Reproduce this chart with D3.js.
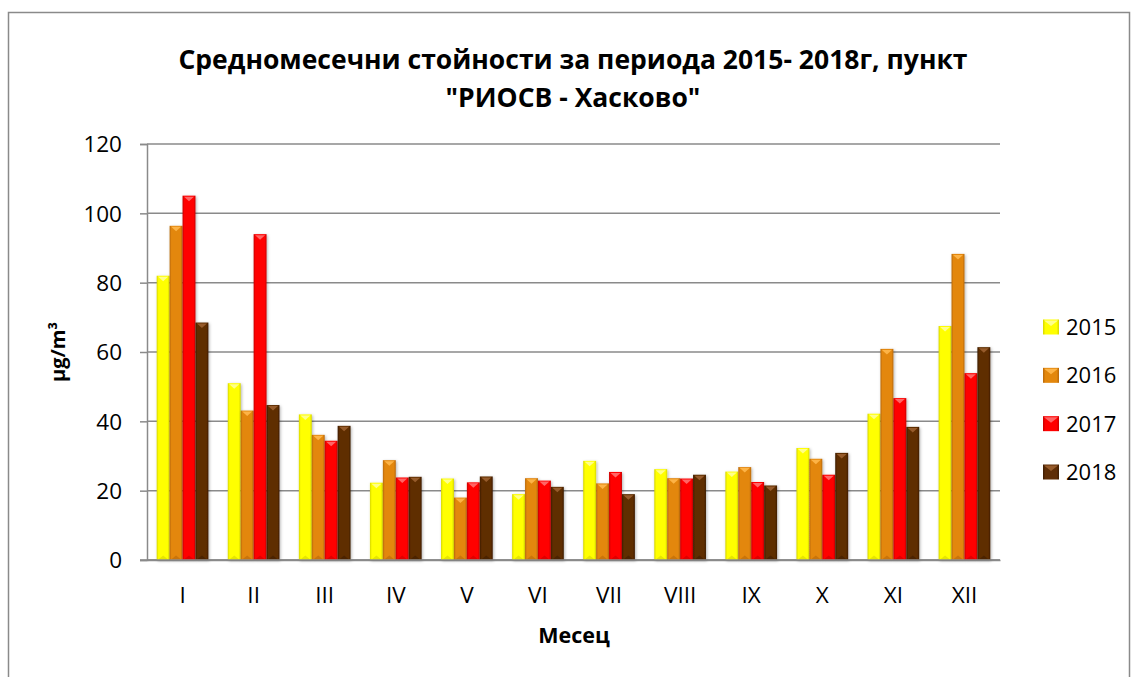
<!DOCTYPE html>
<html>
<head>
<meta charset="utf-8">
<script src="https://cdn.jsdelivr.net/npm/d3@7"></script>
<style>
  html, body { margin: 0; padding: 0; background: #fff; }
  svg { display: block; }
  text { font-family: "Open Sans", "Noto Sans", "DejaVu Sans", sans-serif; fill: #000; }
</style>
</head>
<body>
<svg id="chart" width="1131" height="677"></svg>
<script>
// ---- Data ----
const months = ["I","II","III","IV","V","VI","VII","VIII","IX","X","XI","XII"];
const seriesNames = ["2015","2016","2017","2018"];
const v2015 = [82, 51, 42, 22.3, 23.5, 19, 28.6, 26.2, 25.5, 32.3, 42.2, 67.5];
const v2016 = [96.4, 43.1, 36.1, 28.8, 18, 23.6, 22.1, 23.6, 26.8, 29.2, 60.9, 88.3];
const v2017 = [105.1, 94, 34.4, 23.8, 22.4, 22.9, 25.4, 23.5, 22.5, 24.6, 46.7, 53.9];
const v2018 = [68.5, 44.7, 38.7, 24, 24.1, 21.1, 19, 24.6, 21.5, 30.9, 38.4, 61.4];
const yTicks = [0, 20, 40, 60, 80, 100, 120];
const titleLines = ["Средномесечни стойности за периода 2015- 2018г, пункт", "\"РИОСВ - Хасково\""];
const yTitle = "µg/m³";
const xTitle = "Месец";

const seriesValues = [v2015, v2016, v2017, v2018];
const colors = [
  {base: "#FFFF00", light: "#FFFF99", dark: "#D6D600"},
  {base: "#E3870C", light: "#FFB84D", dark: "#B8680A"},
  {base: "#FF0000", light: "#FF7070", dark: "#C80000"},
  {base: "#5E2D06", light: "#9C6030", dark: "#3E1C02"}
];

// ---- Layout ----
const plot = {left: 147, right: 1000, top: 144, bottom: 560};
const svg = d3.select("#chart");
const defs = svg.append("defs");

// outer frame
svg.append("rect").attr("x", 8.5).attr("y", 12.5).attr("width", 1121).attr("height", 720)
  .attr("fill", "#fff").attr("stroke", "#8a8a8a").attr("stroke-width", 1.5);

const x = d3.scaleBand().domain(months).range([plot.left, plot.right]).paddingInner(0).paddingOuter(0);
const gapFrac = 1.5 / 5.5; // gap width ~150%
const xs = d3.scaleBand().domain(seriesNames)
  .range([x.bandwidth() * gapFrac / 2, x.bandwidth() * (1 - gapFrac / 2)]).padding(0);
const y = d3.scaleLinear().domain([0, 120]).range([plot.bottom, plot.top]);

// gradients per series
colors.forEach((c, i) => {
  const g = defs.append("linearGradient").attr("id", "grad" + i).attr("x1", "0").attr("x2", "1").attr("y1", "0").attr("y2", "0");
  g.append("stop").attr("offset", "0").attr("stop-color", c.dark);
  g.append("stop").attr("offset", "0.15").attr("stop-color", c.base);
  g.append("stop").attr("offset", "0.5").attr("stop-color", c.base);
  g.append("stop").attr("offset", "0.85").attr("stop-color", c.base);
  g.append("stop").attr("offset", "1").attr("stop-color", c.dark);
});
const shadow = defs.append("filter").attr("id", "shadow").attr("x", "-50%").attr("y", "-10%").attr("width", "200%").attr("height", "120%");
shadow.append("feDropShadow").attr("dx", 1).attr("dy", 1).attr("stdDeviation", 1.5).attr("flood-color", "#000").attr("flood-opacity", 0.3);

// gridlines
const yAxis = d3.axisLeft(y).tickValues(yTicks).tickSize(7).tickFormat(d3.format("d"));
svg.append("g").selectAll("line").data(yTicks).join("line")
  .attr("x1", plot.left).attr("x2", plot.right)
  .attr("y1", d => y(d)).attr("y2", d => y(d))
  .attr("stroke", "#8a8a8a").attr("stroke-width", 1.5);

const gy = svg.append("g").attr("transform", `translate(${plot.left},0)`).call(yAxis);
gy.select(".domain").attr("stroke", "#8a8a8a").attr("stroke-width", 1.5);
gy.selectAll(".tick line").attr("stroke", "#8a8a8a").attr("stroke-width", 1.5);
gy.selectAll(".tick text").attr("x", -25).attr("font-size", 22.5).attr("font-family", "Open Sans").attr("fill", "#000").attr("dy", "0.35em");

// x axis
const xAxis = d3.axisBottom(x).tickSize(0).tickPadding(0);
const gx = svg.append("g").attr("transform", `translate(0,${plot.bottom})`).call(xAxis);
gx.select(".domain").attr("stroke", "#8a8a8a").attr("stroke-width", 1.5);
gx.selectAll(".tick text").attr("y", 43).attr("dy", 0).attr("font-size", 22.5).attr("font-family", "Open Sans").attr("fill", "#000");

// bars
const barData = [];
months.forEach((m, mi) => seriesNames.forEach((s, si) => barData.push({m, s, si, v: seriesValues[si][mi]})));
const bars = svg.append("g").selectAll("g").data(barData).join("g")
  .attr("transform", d => `translate(${x(d.m) + xs(d.s)},0)`);
bars.append("rect")
  .attr("x", 0).attr("y", d => y(d.v)).attr("width", xs.bandwidth()).attr("height", d => y(0) - y(d.v))
  .attr("fill", d => `url(#grad${d.si})`).attr("filter", "url(#shadow)");
// top bevel triangle
bars.append("path")
  .attr("d", d => {
    const w = xs.bandwidth(), t = y(d.v);
    return `M1.5,${t + 1}L${w - 1.5},${t + 1}L${w / 2},${t + 5.5}Z`;
  })
  .attr("fill", d => colors[d.si].light).attr("opacity", 0.9);
// bottom bevel triangle
bars.append("path")
  .attr("d", d => {
    const w = xs.bandwidth(), b = y(0);
    return `M1.5,${b - 0.5}L${w - 1.5},${b - 0.5}L${w / 2},${b - 4.5}Z`;
  })
  .attr("fill", d => colors[d.si].dark).attr("opacity", 0.6);

// redraw axis baseline over bars
svg.append("line").attr("x1", plot.left - 7).attr("x2", plot.right).attr("y1", plot.bottom).attr("y2", plot.bottom)
  .attr("stroke", "#8a8a8a").attr("stroke-width", 1.5);

// title
const title = svg.append("text").attr("text-anchor", "middle").attr("font-weight", "bold").attr("font-size", 26.5);
titleLines.forEach((t, i) => title.append("tspan").attr("x", 573).attr("y", 69 + i * 38).text(t));

// axis titles
svg.append("text").attr("transform", "translate(65,352) rotate(-90)").attr("text-anchor", "middle")
  .attr("font-weight", "bold").attr("font-size", 20).text(yTitle);
svg.append("text").attr("x", 574).attr("y", 643).attr("text-anchor", "middle")
  .attr("font-weight", "bold").attr("font-size", 21.5).text(xTitle);

// legend
const legendY = d3.scalePoint().domain(seriesNames).range([327, 472]);
const lg = svg.append("g").selectAll("g").data(seriesNames).join("g")
  .attr("transform", d => `translate(1043,${legendY(d)})`);
lg.append("rect").attr("x", 0).attr("y", -7.5).attr("width", 16).attr("height", 15)
  .attr("fill", (d, i) => `url(#grad${i})`);
lg.append("path").attr("d", "M1,-6.5L15,-6.5L8,-1Z").attr("fill", (d, i) => colors[i].light).attr("opacity", 0.9);
lg.append("text").attr("x", 23).attr("y", 0).attr("dy", "0.36em").attr("font-size", 22).text(d => d);
</script>
</body>
</html>
